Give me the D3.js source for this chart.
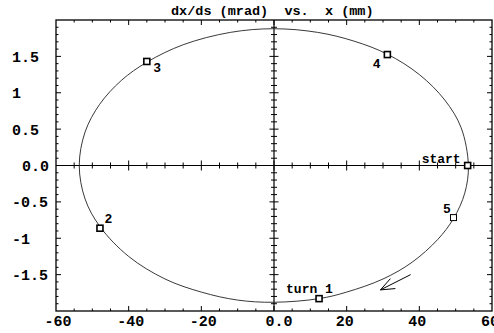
<!DOCTYPE html>
<html><head><meta charset="utf-8">
<script src="https://cdn.jsdelivr.net/npm/d3@7"></script>
<style>
html,body{margin:0;padding:0;background:#fff;}
svg{display:block;}
text{font-family:"Liberation Mono","DejaVu Sans Mono",monospace;font-weight:bold;fill:#000;}
</style></head>
<body>
<svg id="chart" width="494" height="333"></svg>
<script>
// ---- data ----
const titleText = "dx/ds (mrad)  vs.  x (mm)";
const xTickValues = [-60, -40, -20, 0, 20, 40, 60];
const xTickLabels = ["-60", "-40", "-20", "0.0", "20", "40", "60"];
const yTickValues = [1.5, 1, 0.5, 0, -0.5, -1, -1.5];
const yTickLabels = ["1.5", "1", "0.5", "0.0", "-0.5", "-1", "-1.5"];
// orbit curve (x mm, dx/ds mrad)
const orbitX = [53.5, 52.5, 49.4, 45, 38, 30, 20, 12.4, 0, -10, -20, -30, -40, -47.9, -52, -53.6, -52, -48, -42, -35, -25, -12, 0, 12, 22, 31.2, 40, 47, 51.5];
const orbitY = [0, -0.38, -0.73, -1.02, -1.33, -1.56, -1.74, -1.83, -1.88, -1.85, -1.74, -1.56, -1.25, -0.84, -0.46, 0, 0.46, 0.84, 1.17, 1.42, 1.66, 1.83, 1.88, 1.83, 1.71, 1.53, 1.25, 0.90, 0.52];
// marked points
const markNames = ["start", "5", "turn 1", "2", "3", "4"];
const markX = [53.3, 49.4, 12.4, -47.9, -35.0, 31.2];
const markY = [0, -0.716, -1.83, -0.862, 1.43, 1.525];
// direction arrow (from -> to)
const arrowX = [37.6, 29.3];
const arrowY = [-1.50, -1.71];

// ---- layout ----
const svg = d3.select("#chart");
const L = 56, R = 492, T = 20, B = 311;
const x = d3.scaleLinear().domain([-60, 60]).range([L, R]);
const y = d3.scaleLinear().domain([-2, 2]).range([B, T]);

// title
svg.append("text").attr("x", 171).attr("y", 15).attr("font-size", 13.5)
  .attr("xml:space", "preserve").style("white-space", "pre").text(titleText);

// frame
svg.append("rect").attr("x", L).attr("y", T).attr("width", R - L).attr("height", B - T)
  .attr("fill", "none").attr("stroke", "#000").attr("stroke-width", 1.3);

const xMinor = d3.range(-55, 60, 5);
const yMinor = d3.range(-19, 20, 1).map(d => d / 10);
const isXMajor = v => Math.abs(v % 20) < 1e-9;
const isYMajor = v => Math.abs(Math.round(v * 10) % 5) === 0;

const ticks = svg.append("g").attr("stroke", "#000").attr("stroke-width", 1);
// frame ticks pointing inward
xMinor.forEach(v => {
  const len = isXMajor(v) ? 5 : 2.5;
  ticks.append("line").attr("x1", x(v)).attr("x2", x(v)).attr("y1", B).attr("y2", B - len);
  ticks.append("line").attr("x1", x(v)).attr("x2", x(v)).attr("y1", T).attr("y2", T + len);
});
yMinor.forEach(v => {
  const len = isYMajor(v) ? 5 : 2.5;
  ticks.append("line").attr("y1", y(v)).attr("y2", y(v)).attr("x1", L).attr("x2", L + len);
  ticks.append("line").attr("y1", y(v)).attr("y2", y(v)).attr("x1", R).attr("x2", R - len);
});
// zero axes
svg.append("line").attr("x1", L).attr("x2", R).attr("y1", y(0)).attr("y2", y(0))
  .attr("stroke", "#000").attr("stroke-width", 1.2);
svg.append("line").attr("x1", x(0)).attr("x2", x(0)).attr("y1", T).attr("y2", B)
  .attr("stroke", "#000").attr("stroke-width", 1.2);
xMinor.forEach(v => {
  const len = isXMajor(v) ? 5 : 3;
  ticks.append("line").attr("x1", x(v)).attr("x2", x(v)).attr("y1", y(0) - len).attr("y2", y(0) + len);
});
yMinor.forEach(v => {
  const len = isYMajor(v) ? 4.5 : 3;
  ticks.append("line").attr("y1", y(v)).attr("y2", y(v)).attr("x1", x(0) - len).attr("x2", x(0) + len);
});

// tick labels
xTickValues.forEach((v, i) => {
  svg.append("text").attr("x", x(v) + (v === 0 ? 5 : (v < 0 ? 2 : -2))).attr("y", 326)
    .attr("text-anchor", "middle").attr("font-size", 15).text(xTickLabels[i]);
});
yTickValues.forEach((v, i) => {
  svg.append("text").attr("x", v === 0 ? 22 : 12).attr("y", y(v) + 5.5)
    .attr("font-size", 15).text(yTickLabels[i]);
});

// orbit curve
const pts = orbitX.map((d, i) => [x(d), y(orbitY[i])]);
svg.append("path").attr("d", d3.line().curve(d3.curveCatmullRomClosed.alpha(0.5))(pts))
  .attr("fill", "none").attr("stroke", "#222").attr("stroke-width", 0.9);

// markers
const labelOffsets = {"start": [-46, -2.5], "5": [-10.5, -4.5], "turn 1": [-33, -6], "2": [4.5, -5], "3": [6.5, 10.5], "4": [-14.5, 13.3]};
markNames.forEach((n, i) => {
  const px = x(markX[i]), py = y(markY[i]);
  svg.append("rect").attr("x", px - 3).attr("y", py - 3).attr("width", 6).attr("height", 6)
    .attr("fill", "#fff").attr("stroke", "#000").attr("stroke-width", n === "5" ? 1 : 1.6);
  const o = labelOffsets[n];
  svg.append("text").attr("x", px + o[0]).attr("y", py + o[1]).attr("font-size", 13)
    .attr("xml:space", "preserve").text(n);
});

// arrow
const ax1 = x(arrowX[0]), ay1 = y(arrowY[0]), ax2 = x(arrowX[1]), ay2 = y(arrowY[1]);
svg.append("line").attr("x1", ax1).attr("y1", ay1).attr("x2", ax2).attr("y2", ay2)
  .attr("stroke", "#000").attr("stroke-width", 1);
const ang = Math.atan2(ay1 - ay2, ax1 - ax2);
const hl = 15, ha = 0.38;
svg.append("path").attr("d",
  `M${ax2 + hl * Math.cos(ang - ha)},${ay2 + hl * Math.sin(ang - ha)} L${ax2},${ay2} L${ax2 + hl * Math.cos(ang + ha)},${ay2 + hl * Math.sin(ang + ha)}`)
  .attr("fill", "none").attr("stroke", "#000").attr("stroke-width", 1);
</script>
</body></html>
